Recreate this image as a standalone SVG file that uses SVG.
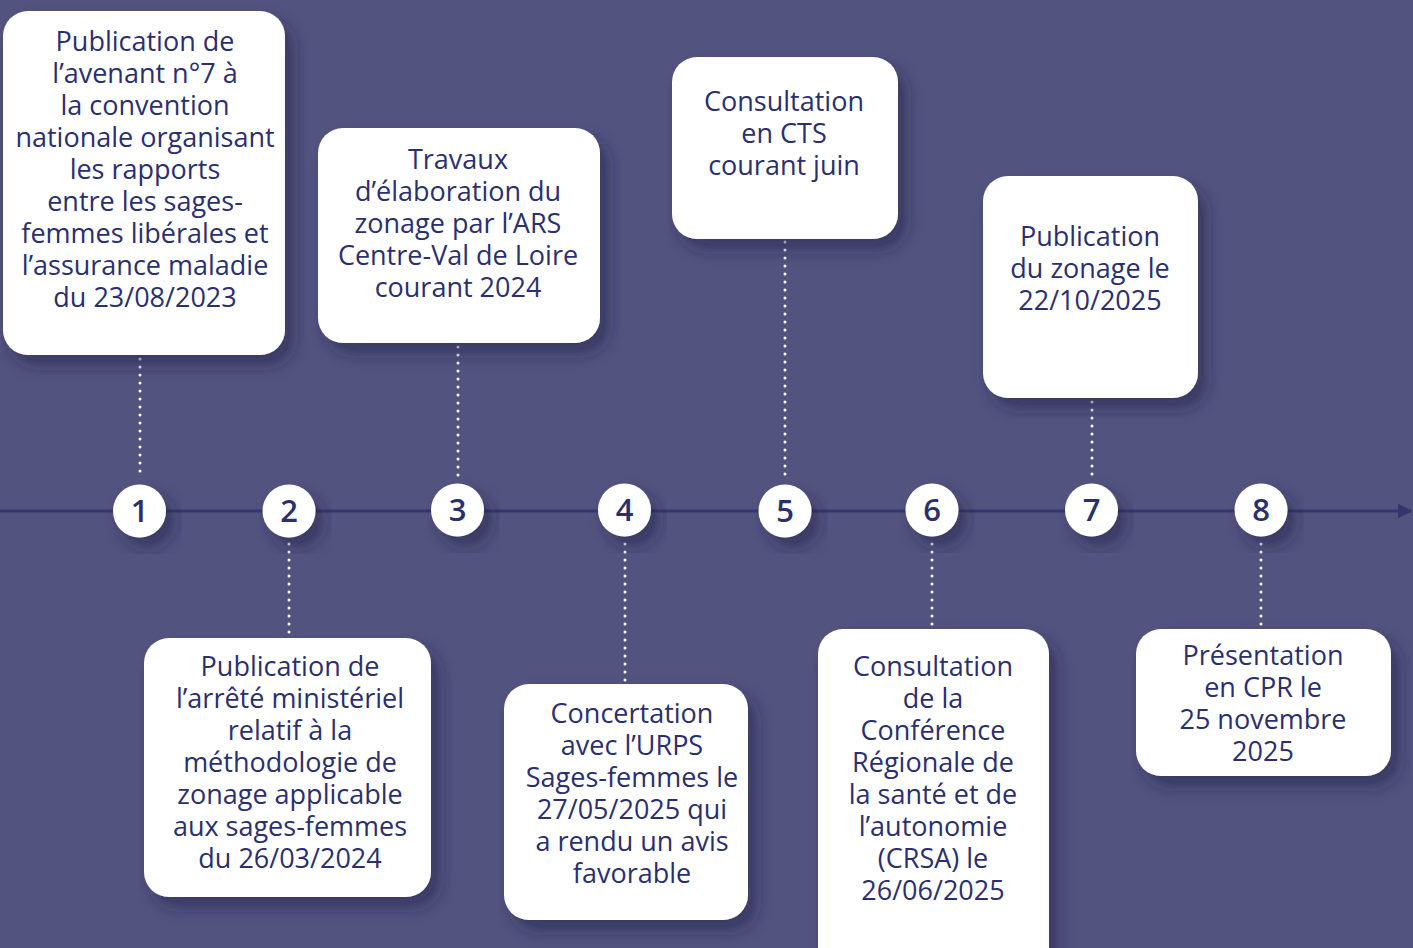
<svg xmlns="http://www.w3.org/2000/svg" width="1413" height="948" viewBox="0 0 1413 948">
<defs>
<filter id="sh" x="-30%" y="-30%" width="160%" height="160%">
<feDropShadow dx="8" dy="10" stdDeviation="8" flood-color="#23234a" flood-opacity="0.55"/>
</filter>
<marker id="arr" viewBox="0 0 10 10" refX="9" refY="5" markerWidth="5" markerHeight="5" orient="auto" markerUnits="strokeWidth">
<path d="M0,0 L10,5 L0,10 z" fill="#36366f"/>
</marker>
<style>
.box{fill:#ffffff;filter:url(#sh)}
.t{font-family:"Open Sans","Liberation Sans",sans-serif;font-size:27px;fill:#2b2f6e;text-anchor:middle}
.num{font-family:"Open Sans","Liberation Sans",sans-serif;font-size:31px;font-weight:600;fill:#2b2f6e;text-anchor:middle}
.dot{stroke:#ffffff;stroke-width:3;stroke-linecap:round;stroke-dasharray:0 8;fill:none}
.c{fill:#ffffff;filter:url(#sh)}
</style>
</defs>
<rect width="1413" height="948" fill="#535380"/>
<g id="connectors">
<line x1="0" y1="511" x2="1411" y2="511" stroke="#36366f" stroke-width="3" marker-end="url(#arr)"/>
<line class="dot" x1="140" y1="359" x2="140" y2="478"/>
<line class="dot" x1="289" y1="544" x2="289" y2="636"/>
<line class="dot" x1="458" y1="347" x2="458" y2="480"/>
<line class="dot" x1="625" y1="544" x2="625" y2="682"/>
<line class="dot" x1="785" y1="242" x2="785" y2="482"/>
<line class="dot" x1="932" y1="544" x2="932" y2="627"/>
<line class="dot" x1="1092" y1="402" x2="1092" y2="482"/>
<line class="dot" x1="1261" y1="544" x2="1261" y2="627"/>
</g>
<g id="box1">
<rect class="box" x="3" y="11" width="282" height="344" rx="25"/>
<text class="t" x="145" y="51">Publication de<tspan x="145" dy="32">l’avenant n°7 à</tspan><tspan x="145" dy="32">la convention</tspan><tspan x="145" dy="32">nationale organisant</tspan><tspan x="145" dy="32">les rapports</tspan><tspan x="145" dy="32">entre les sages-</tspan><tspan x="145" dy="32">femmes libérales et</tspan><tspan x="145" dy="32">l’assurance maladie</tspan><tspan x="145" dy="32">du 23/08/2023</tspan></text>
</g>
<g id="box2">
<rect class="box" x="144" y="638" width="287" height="259" rx="25"/>
<text class="t" x="290" y="676">Publication de<tspan x="290" dy="32">l’arrêté ministériel</tspan><tspan x="290" dy="32">relatif à la</tspan><tspan x="290" dy="32">méthodologie de</tspan><tspan x="290" dy="32">zonage applicable</tspan><tspan x="290" dy="32">aux sages-femmes</tspan><tspan x="290" dy="32">du 26/03/2024</tspan></text>
</g>
<g id="box3">
<rect class="box" x="318" y="128" width="282" height="215" rx="25"/>
<text class="t" x="458" y="169">Travaux<tspan x="458" dy="32">d’élaboration du</tspan><tspan x="458" dy="32">zonage par l’ARS</tspan><tspan x="458" dy="32">Centre-Val de Loire</tspan><tspan x="458" dy="32">courant 2024</tspan></text>
</g>
<g id="box4">
<rect class="box" x="504" y="684" width="244" height="236" rx="25"/>
<text class="t" x="632" y="723">Concertation<tspan x="632" dy="32">avec l’URPS</tspan><tspan x="632" dy="32">Sages-femmes le</tspan><tspan x="632" dy="32">27/05/2025 qui</tspan><tspan x="632" dy="32">a rendu un avis</tspan><tspan x="632" dy="32">favorable</tspan></text>
</g>
<g id="box5">
<rect class="box" x="672" y="57" width="226" height="182" rx="25"/>
<text class="t" x="784" y="111">Consultation<tspan x="784" dy="32">en CTS</tspan><tspan x="784" dy="32">courant juin</tspan></text>
</g>
<g id="box6">
<rect class="box" x="818" y="629" width="231" height="350" rx="25"/>
<text class="t" x="933" y="676">Consultation<tspan x="933" dy="32">de la</tspan><tspan x="933" dy="32">Conférence</tspan><tspan x="933" dy="32">Régionale de</tspan><tspan x="933" dy="32">la santé et de</tspan><tspan x="933" dy="32">l’autonomie</tspan><tspan x="933" dy="32">(CRSA) le</tspan><tspan x="933" dy="32">26/06/2025</tspan></text>
</g>
<g id="box7">
<rect class="box" x="983" y="176" width="215" height="222" rx="25"/>
<text class="t" x="1090" y="246">Publication<tspan x="1090" dy="32">du zonage le</tspan><tspan x="1090" dy="32">22/10/2025</tspan></text>
</g>
<g id="box8">
<rect class="box" x="1136" y="629" width="255" height="147" rx="25"/>
<text class="t" x="1263" y="665">Présentation<tspan x="1263" dy="32">en CPR le</tspan><tspan x="1263" dy="32">25 novembre</tspan><tspan x="1263" dy="32">2025</tspan></text>
</g>
<g id="n1"><circle class="c" cx="139.5" cy="511" r="26.5"/><text class="num" x="139.5" y="522">1</text></g>
<g id="n2"><circle class="c" cx="289" cy="511" r="26.5"/><text class="num" x="289" y="522">2</text></g>
<g id="n3"><circle class="c" cx="457.5" cy="510" r="26.5"/><text class="num" x="457.5" y="521">3</text></g>
<g id="n4"><circle class="c" cx="624.5" cy="510" r="26.5"/><text class="num" x="624.5" y="521">4</text></g>
<g id="n5"><circle class="c" cx="785" cy="511" r="26.5"/><text class="num" x="785" y="522">5</text></g>
<g id="n6"><circle class="c" cx="932" cy="510" r="26.5"/><text class="num" x="932" y="521">6</text></g>
<g id="n7"><circle class="c" cx="1091.5" cy="510" r="26.5"/><text class="num" x="1091.5" y="521">7</text></g>
<g id="n8"><circle class="c" cx="1261" cy="510" r="26.5"/><text class="num" x="1261" y="521">8</text></g>
</svg>
